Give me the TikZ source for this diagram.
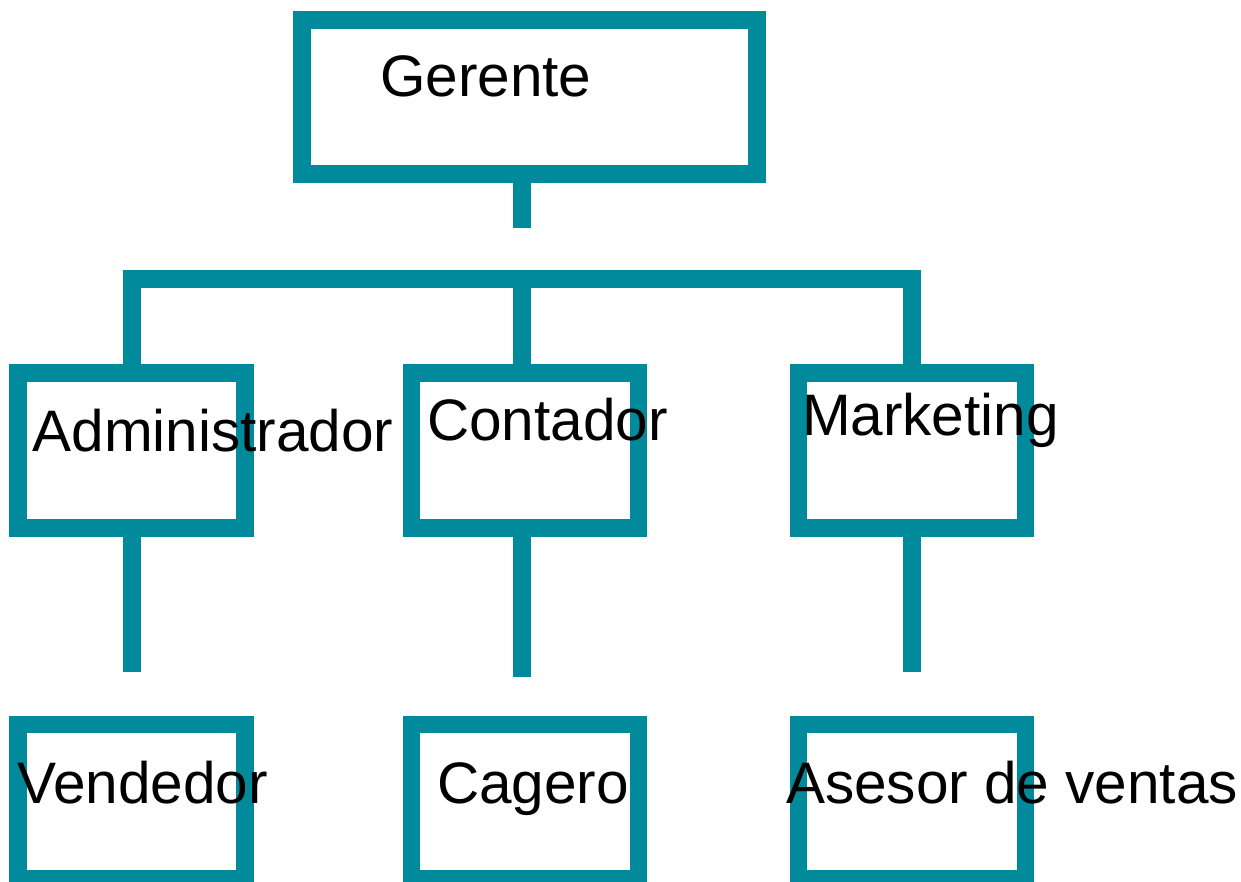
\documentclass[tikz,border=0pt]{standalone}
\usepackage{fontspec}
\setmainfont{Liberation Sans}
\definecolor{teal1}{RGB}{0,138,155}
\begin{document}
\begin{tikzpicture}[x=1pt,y=-1pt,
  box/.style={draw=teal1,line width=17.7pt,fill=none,inner sep=0pt,minimum width=227pt,minimum height=154.7pt},
  conn/.style={draw=teal1,line width=17.6pt,line join=miter},
  lbl/.style={anchor=base west,inner sep=0pt,outer sep=0pt,font=\fontsize{58.5}{60}\selectfont}]
\useasboundingbox (0,0) rectangle (1241,881);
% boxes
\node[box,minimum width=454.6pt,minimum height=154.3pt] (ger) at (529.5,97) {};
\node[box] (adm) at (131.8,450.5) {};
\node[box] (con) at (525,450.5) {};
\node[box] (mkt) at (911.9,450.5) {};
\node[box] (ven) at (131.8,801.7) {};
\node[box] (cag) at (525,801.7) {};
\node[box] (ase) at (911.9,801.7) {};
% connector points
\coordinate (g1) at (522,227.7);
\coordinate (busL) at (132,278.8);
\coordinate (busM) at (522,278.8);
\coordinate (busR) at (912,278.8);
\coordinate (a1) at (132,671.7);
\coordinate (c1) at (522,677.3);
\coordinate (m1) at (912,671.7);
% connectors
\draw[conn] (g1 |- ger.south) -- (g1);
\draw[conn] (busL |- adm.north) -- (busL) -- (busR) -- (busR |- mkt.north);
\draw[conn] (busM) -- (busM |- con.north);
\draw[conn] (a1 |- adm.south) -- (a1);
\draw[conn] (c1 |- con.south) -- (c1);
\draw[conn] (m1 |- mkt.south) -- (m1);
% labels
\node[lbl] (tger) at (380,96.5) {Gerente};
\node[lbl] (tadm) at (32.5,451.7) {Administrador};
\node[lbl] (tcon) at (427,440) {Contador};
\node[lbl] (tmkt) at (802,435) {Marketing};
\node[lbl] (tven) at (17.5,803.3) {Vendedor};
\node[lbl] (tcag) at (437,803.3) {Cagero};
\node[lbl] (tase) at (786,803.3) {Asesor de ventas};
\end{tikzpicture}
\end{document}
